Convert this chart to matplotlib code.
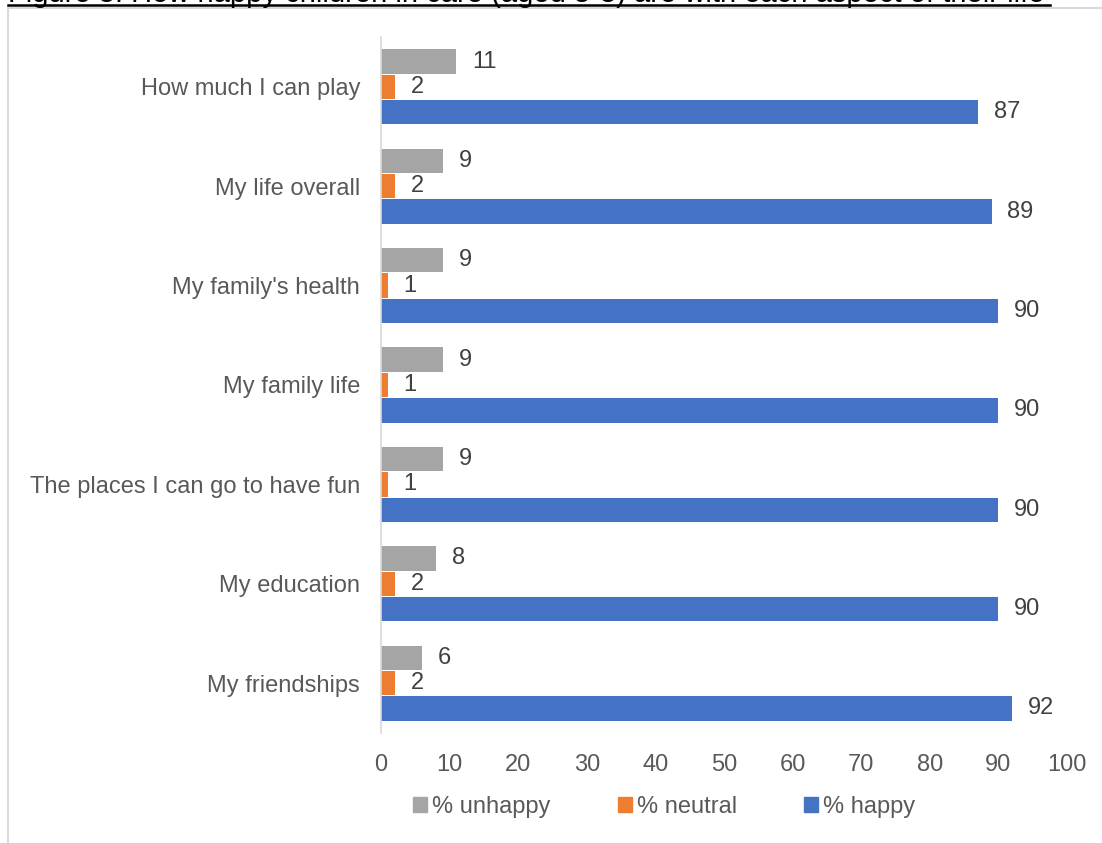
import numpy as np
import matplotlib.pyplot as plt
from matplotlib.lines import Line2D
from matplotlib.patches import Patch

plt.rcParams['font.family'] = ['Liberation Sans', 'DejaVu Sans']

categories = ['How much I can play', 'My life overall', "My family's health",
              'My family life', 'The places I can go to have fun',
              'My education', 'My friendships']
unhappy = [11, 9, 9, 9, 9, 8, 6]
neutral = [2, 2, 1, 1, 1, 2, 2]
happy = [87, 89, 90, 90, 90, 90, 92]

c_unhappy = '#A5A5A5'
c_neutral = '#ED7D31'
c_happy = '#4472C4'
txt = '#404040'
tick_c = '#595959'
fs = 17

fig = plt.figure(figsize=(11.02, 8.43), dpi=100)
ax = fig.add_axes([381 / 1102, 1 - 732.7 / 843, (1067 - 381) / 1102, (732.7 - 37.3) / 843])

y = np.arange(len(categories))
h = 0.245
series = [(unhappy, c_unhappy, -0.255, '% unhappy'),
          (neutral, c_neutral, 0.0, '% neutral'),
          (happy, c_happy, 0.255, '% happy')]
for vals, col, off, lab in series:
    bars = ax.barh(y + off, vals, height=h, color=col, label=lab)
    for b, v in zip(bars, vals):
        ax.text(b.get_width() + 2.3, b.get_y() + b.get_height() / 2, str(v),
                va='center', ha='left', fontsize=fs, color=txt)

ax.set_xlim(0, 100)
ax.set_ylim(len(categories) - 0.5, -0.5)
ax.set_xticks(range(0, 101, 10))
ax.set_yticks(y)
ax.set_yticklabels(categories)
ax.tick_params(axis='both', length=0, labelsize=fs, labelcolor=tick_c)
ax.tick_params(axis='y', pad=15)
ax.tick_params(axis='x', pad=15)
for s in ['top', 'right', 'bottom']:
    ax.spines[s].set_visible(False)
ax.spines['left'].set_color('#D9D9D9')
ax.spines['left'].set_linewidth(1.2)

handles = [Patch(color=c) for c in (c_unhappy, c_neutral, c_happy)]
fig.legend(handles, ['% unhappy', '% neutral', '% happy'], loc='center',
           bbox_to_anchor=(664 / 1102, 1 - 807 / 843), ncol=3, frameon=False,
           fontsize=fs, labelcolor=tick_c, handlelength=0.6, handleheight=0.6,
           handletextpad=0.2, columnspacing=2.85)

# outer frame of the chart area
fig.add_artist(Line2D([8 / 1102, 8 / 1102], [0, 1 - 8 / 843], transform=fig.transFigure,
                      color='#D9D9D9', lw=1.5))
fig.add_artist(Line2D([8 / 1102, 1], [1 - 8 / 843, 1 - 8 / 843], transform=fig.transFigure,
                      color='#D9D9D9', lw=1.5))

# heading, partly above the top edge, underlined
fig.text(8 / 1102, 1 - 2 / 843, 'Figure 5: How happy children in care (aged 5-8) are with each aspect of their life',
         fontsize=21, color='black', va='baseline', ha='left')
fig.add_artist(Line2D([8 / 1102, 1050 / 1102], [1 - 4.5 / 843, 1 - 4.5 / 843],
                      transform=fig.transFigure, color='black', lw=1.8))

fig.savefig('out.png', dpi=100)
